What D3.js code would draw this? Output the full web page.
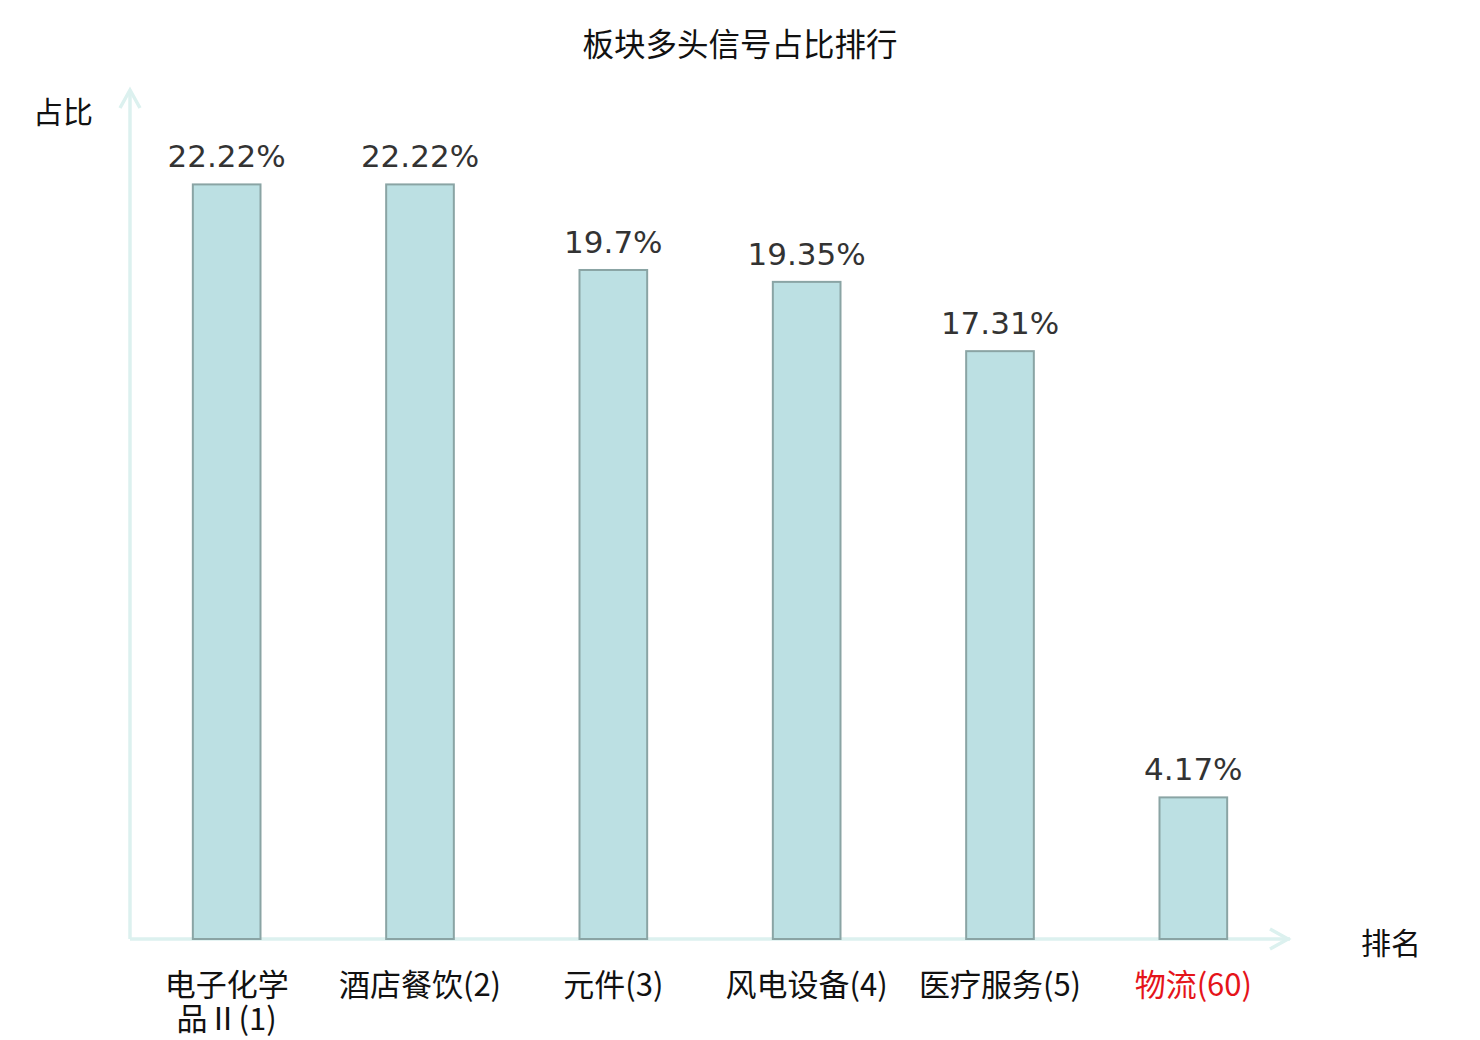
<!DOCTYPE html>
<html>
<head>
<meta charset="utf-8">
<script src="https://cdn.jsdelivr.net/npm/d3@7.9.0/dist/d3.min.js"></script>
<style>
  body { margin: 0; background: #fff; }
  svg { display: block; }
  .cjk { font-family: "Noto Sans CJK SC", sans-serif; }
  .num { font-family: "DejaVu Sans", sans-serif; }
</style>
</head>
<body>
<svg id="chart" width="1480" height="1040"></svg>
<script>
const title = '板块多头信号占比排行';
const categories = ['电子化学\n品Ⅱ(1)', '酒店餐饮(2)', '元件(3)', '风电设备(4)', '医疗服务(5)', '物流(60)'];
const values = [22.22, 22.22, 19.7, 19.35, 17.31, 4.17];
const highlighted = ['物流(60)'];
const yName = '占比';
const xName = '排名';

const svg = d3.select('#chart');
const axisColor = '#dcf1ef';

const x = d3.scaleBand().domain(categories).range([130, 1290]).paddingInner(0.65).paddingOuter(0.325);
const y = d3.scaleLinear().domain([0, 25]).range([939, 90]);

// title
svg.append('text')
  .attr('class', 'cjk')
  .attr('x', 740).attr('y', 42)
  .attr('text-anchor', 'middle').attr('dominant-baseline', 'central')
  .attr('font-size', 31.5).attr('fill', '#111')
  .text(title);

// axes
const axes = svg.append('g').attr('stroke', axisColor).attr('stroke-width', 3.5).attr('fill', 'none');
axes.append('line').attr('x1', 130).attr('x2', 130).attr('y1', y(0)).attr('y2', y(25));
axes.append('line').attr('x1', 130).attr('x2', 1290).attr('y1', y(0)).attr('y2', y(0));
axes.append('path').attr('d', `M120,${y(25) + 18}L130,${y(25)}L140,${y(25) + 18}`);
axes.append('path').attr('d', `M1270,${y(0) - 10}L1288,${y(0)}L1270,${y(0) + 10}`);

svg.append('text').attr('class', 'cjk')
  .attr('x', 63).attr('y', 110)
  .attr('text-anchor', 'middle').attr('dominant-baseline', 'central')
  .attr('font-size', 30).attr('fill', '#111').text(yName);
svg.append('text').attr('class', 'cjk')
  .attr('x', 1391).attr('y', 941)
  .attr('text-anchor', 'middle').attr('dominant-baseline', 'central')
  .attr('font-size', 30).attr('fill', '#111').text(xName);

// bars
svg.append('g').selectAll('rect')
  .data(values)
  .join('rect')
  .attr('x', (d, i) => x(categories[i]))
  .attr('width', x.bandwidth())
  .attr('y', d => y(d))
  .attr('height', d => y(0) - y(d))
  .attr('fill', '#bce0e3')
  .attr('stroke', '#8aa4a4')
  .attr('stroke-width', 2);

// value labels
svg.append('g').selectAll('text')
  .data(values)
  .join('text')
  .attr('class', 'num')
  .attr('x', (d, i) => x(categories[i]) + x.bandwidth() / 2)
  .attr('y', d => y(d) - 17)
  .attr('text-anchor', 'middle')
  .attr('font-size', 31)
  .attr('fill', '#333')
  .text(d => d + '%');

// category labels, one text per line
const labelG = svg.append('g');
categories.forEach(d => {
  d.split('\n').forEach((line, i) => {
    labelG.append('text')
      .attr('class', 'cjk')
      .attr('x', x(d) + x.bandwidth() / 2)
      .attr('y', 982 + i * 34)
      .attr('text-anchor', 'middle')
      .attr('dominant-baseline', 'central')
      .attr('font-size', 31)
      .attr('fill', highlighted.includes(d) ? '#e5141a' : '#111')
      .text(line);
  });
});
</script>
</body>
</html>
